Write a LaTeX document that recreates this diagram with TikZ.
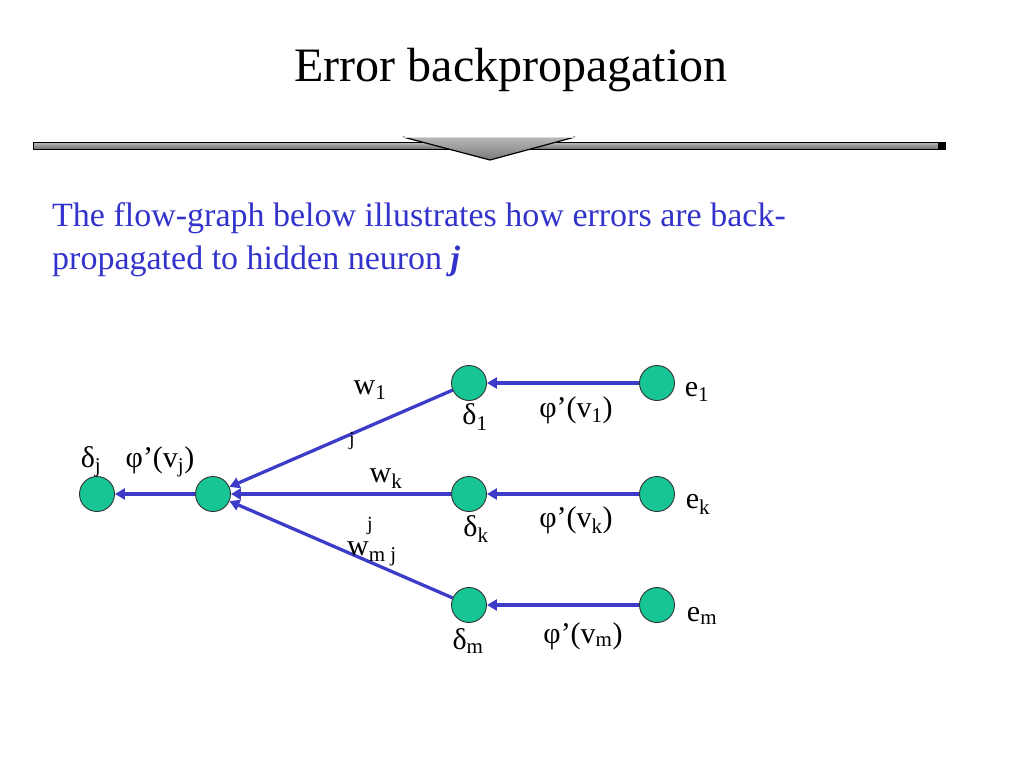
\documentclass[tikz,border=0pt]{standalone}
\usepackage{fontspec}
\setmainfont{Liberation Serif}
\usetikzlibrary{arrows.meta}
\definecolor{nodeteal}{RGB}{22,196,148}
\definecolor{edgeblue}{RGB}{60,60,200}
\definecolor{textblue}{RGB}{51,51,204}
\begin{document}
\begin{tikzpicture}[x=1pt,y=-1pt,
  neuron/.style={circle,draw=black!80,line width=0.9pt,fill=nodeteal,minimum size=35pt,inner sep=0pt},
  flow/.style={draw=edgeblue,line width=3.3pt,-{Triangle[length=10pt,width=11pt]}},
  lbl/.style={font=\fontsize{30}{36}\selectfont,inner sep=0pt}]
\useasboundingbox (0,0) rectangle (1024,768);
% title
\node[font=\fontsize{48}{56}\selectfont,inner sep=0pt] (title) at (511,70) {Error backpropagation};
% bar
\shade[top color=gray!50,bottom color=gray!90!black,draw=black,line width=0.9pt] (33,142) rectangle (945,149);
\fill[black] (938,142) rectangle (945,149);
\shade[top color=gray!55,bottom color=gray!95!black] (403,137) -- (575,137) -- (490,160) -- cycle;
\draw[black,line width=1.2pt] (403,137) -- (490,160) -- (575,137);
\draw[gray!30,line width=0.8pt] (403,137) -- (575,137);
% body text
\node[font=\fontsize{34}{43}\selectfont,text=textblue,anchor=north west,inner sep=0pt,align=left] (body) at (52,202)
 {The flow-graph below illustrates how errors are back-\\propagated to hidden neuron \textbf{\textit{j}}};
% nodes
\node[neuron] (dj) at (97,494) {};
\node[neuron] (h) at (213,494) {};
\node[neuron] (d1) at (469,383) {};
\node[neuron] (dk) at (469,494) {};
\node[neuron] (dm) at (469,605) {};
\node[neuron] (e1) at (657,383) {};
\node[neuron] (ek) at (657,494) {};
\node[neuron] (em) at (657,605) {};
% edges
\draw[flow] (e1) -- (d1);
\draw[flow] (ek) -- (dk);
\draw[flow] (em) -- (dm);
\draw[flow] (d1) -- (h);
\draw[flow] (dk) -- (h);
\draw[flow] (dm) -- (h);
\draw[flow] (h) -- (dj);
% labels
\node[lbl] (ldj) at (91,462) {δ\textsubscript{j}};
\node[lbl] (lphij) at (160,462) {φ’(v\textsubscript{j})};
\node[lbl] (lw1) at (370,390) {w\textsubscript{1}};
\node[lbl,font=\fontsize{20}{24}\selectfont] (lj1) at (352,441) {j};
\node[lbl] (lwk) at (386,479) {w\textsubscript{k}};
\node[lbl,font=\fontsize{20}{24}\selectfont] (ljk) at (370,526) {j};
\node[lbl] (lwm) at (372,554) {w\textsubscript{m j}};
\node[lbl] (ld1) at (475,417) {δ\textsubscript{1}};
\node[lbl] (ldk) at (476,529) {δ\textsubscript{k}};
\node[lbl] (ldm) at (468,641) {δ\textsubscript{m}};
\node[lbl] (lp1) at (576,410) {φ’(v\textsubscript{1})};
\node[lbl] (lpk) at (576,520) {φ’(v\textsubscript{k})};
\node[lbl] (lpm) at (583,636) {φ’(v\textsubscript{m})};
\node[lbl] (le1) at (697,392) {e\textsubscript{1}};
\node[lbl] (lek) at (698,504) {e\textsubscript{k}};
\node[lbl] (lem) at (702,616) {e\textsubscript{m}};
\end{tikzpicture}
\end{document}
